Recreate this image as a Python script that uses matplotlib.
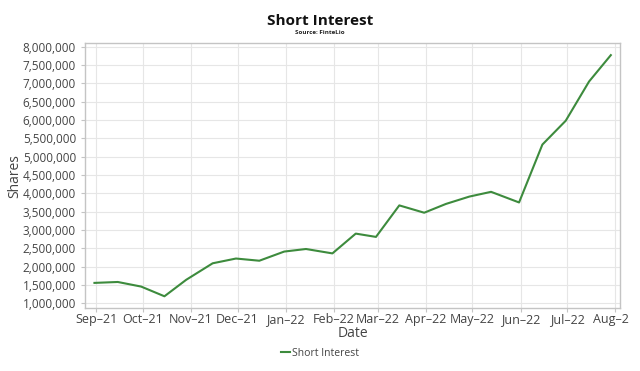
import matplotlib
matplotlib.use('Agg')
import matplotlib.pyplot as plt
import matplotlib.ticker as mticker
import matplotlib.transforms as mtransforms
import pandas as pd

# semi-monthly short interest settlement dates
dates = pd.to_datetime([
    '2021-08-31', '2021-09-15', '2021-09-30', '2021-10-15', '2021-10-29',
    '2021-11-15', '2021-11-30', '2021-12-15', '2021-12-31', '2022-01-14',
    '2022-01-31', '2022-02-15', '2022-02-28', '2022-03-15', '2022-03-31',
    '2022-04-14', '2022-04-29', '2022-05-13', '2022-05-31', '2022-06-15',
    '2022-06-30', '2022-07-15', '2022-07-29',
])
short_interest = [
    1555000, 1580000, 1455000, 1190000, 1640000,
    2090000, 2220000, 2160000, 2410000, 2480000,
    2360000, 2900000, 2810000, 3670000, 3470000,
    3710000, 3910000, 4040000, 3750000, 5330000,
    5980000, 7050000, 7770000,
]
month_ticks = pd.date_range('2021-09-01', '2022-08-01', freq='MS')
# the source chart cuts the last label short
tick_labels = ['Sep\u201321', 'Oct\u201321', 'Nov\u201321', 'Dec\u201321', 'Jan\u201322',
               'Feb\u201322', 'Mar\u201322', 'Apr\u201322', 'May\u201322', 'Jun\u201322',
               'Jul\u201322', 'Aug\u20132']

plt.rcParams['font.family'] = ['Open Sans', 'DejaVu Sans']

fig = plt.figure(figsize=(6.4, 3.71), dpi=100)
ax = fig.add_axes([0.133, 0.170, 0.836, 0.713])

ax.plot(dates, short_interest, color='#3d8b3d', lw=1.5, label='Short Interest')

ax.set_xlim(pd.Timestamp('2021-08-25'), pd.Timestamp('2022-08-04'))
ax.set_ylim(872000, 8090000)
ax.set_xticks(month_ticks)
ax.set_xticklabels(tick_labels)
ax.yaxis.set_major_locator(mticker.MultipleLocator(500000))
ax.yaxis.set_major_formatter(mticker.StrMethodFormatter('{x:,.0f}'))

ax.grid(True, color='#e6e6e6', lw=0.8)
ax.set_axisbelow(True)
for s in ax.spines.values():
    s.set_color('#c4c4c4')
    s.set_linewidth(1.0)
ax.tick_params(axis='y', labelsize=8.5, colors='#c4c4c4', labelcolor='#444444', length=3)
ax.tick_params(axis='x', labelsize=9, colors='#c4c4c4', labelcolor='#444444', length=3, pad=1)

last = ax.get_xticklabels()[-1]
last.set_transform(last.get_transform() + mtransforms.ScaledTranslation(-5 / 100, 0, fig.dpi_scale_trans))

ax.set_xlabel('Date', fontsize=10, color='#444444', labelpad=0)
ax.set_ylabel('Shares', fontsize=10, color='#444444', labelpad=0)

fig.text(0.5, 0.943, 'Short Interest', ha='center', va='center', fontsize=11,
         fontweight='bold', color='#111111')
fig.text(0.5, 0.912, 'Source: FinteLio', ha='center', va='center', fontsize=4.5,
         fontweight='bold', color='#222222')

fig.legend(loc='center', bbox_to_anchor=(0.5, 0.048), frameon=False, fontsize=7.5,
           handlelength=0.9, handletextpad=0.2, labelcolor='#444444')

fig.savefig('out.png', dpi=100)
